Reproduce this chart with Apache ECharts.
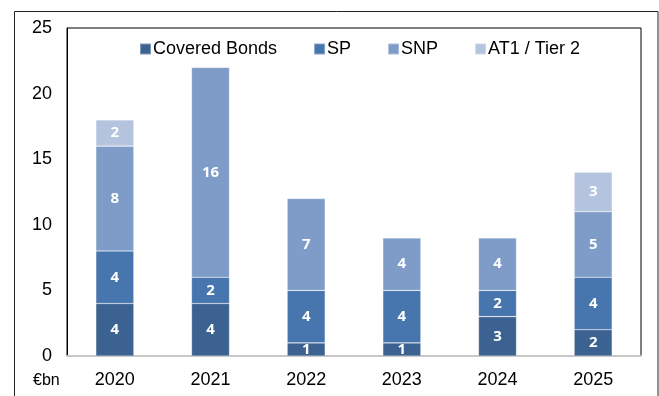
<!DOCTYPE html>
<html><head><meta charset="utf-8">
<script src="https://cdn.jsdelivr.net/npm/echarts@6/dist/echarts.min.js"></script>
<style>html,body{margin:0;padding:0;background:#fff}#c{width:659px;height:396px}</style>
</head><body><div id="c"></div>
<script>
const categories = ['2020','2021','2022','2023','2024','2025'];
const coveredBonds = [4,4,1,1,3,2];
const sp = [4,2,4,4,2,4];
const snp = [8,16,7,4,4,5];
const at1Tier2 = [2,null,null,null,null,3];
const yTicks = [0,5,10,15,20,25];

const chart = echarts.init(document.getElementById('c'), null, {renderer:'canvas'});
const font = 'Liberation Sans, Arial, sans-serif';
function mk(name, data, color){
  return {
    name, type:'bar', stack:'t', data, barWidth:38,
    itemStyle:{color, borderColor:'rgba(255,255,255,0.35)', borderWidth:0.6},
    label:{show:true, position:'inside', color:'#fff', fontWeight:'bold', fontSize:15,
      fontFamily:'Open Sans, sans-serif', formatter:p=>p.value==null?'':p.value}
  };
}
chart.setOption({
  animation:false,
  graphic:[{type:'rect', shape:{x:14.5,y:11.5,width:643.5,height:400}, style:{fill:'none', stroke:'#222', lineWidth:1}},
           {type:'text', left:33, top:373, style:{text:'€bn', font:'16px '+font, fill:'#000'}}],
  grid:{left:67, right:18, top:28, bottom:40, show:true, borderColor:'#000', borderWidth:1},
  legend:{left:134, top:35, itemWidth:11, itemHeight:11, itemGap:36, icon:'rect',
    textStyle:{fontSize:18, fontFamily:font, color:'#000', padding:[0,0,0,-3]},
    data:['Covered Bonds','SP','SNP','AT1 / Tier 2']},
  xAxis:{type:'category', data:categories,
    axisLine:{lineStyle:{color:'#c8c8c8', width:2}}, axisTick:{show:false},
    axisLabel:{color:'#000', fontSize:18, fontFamily:font, margin:15}},
  yAxis:{type:'value', min:yTicks[0], max:yTicks[yTicks.length-1], interval:5,
    splitLine:{show:false}, axisTick:{show:false},
    axisLine:{show:true, lineStyle:{color:'#000', width:1}},
    axisLabel:{color:'#000', fontSize:18, fontFamily:font, margin:15}},
  series:[
    mk('Covered Bonds', coveredBonds, '#3b6291'),
    mk('SP', sp, '#4775ad'),
    mk('SNP', snp, '#7f9cc8'),
    mk('AT1 / Tier 2', at1Tier2, '#b4c3de')
  ]
});
</script></body></html>
